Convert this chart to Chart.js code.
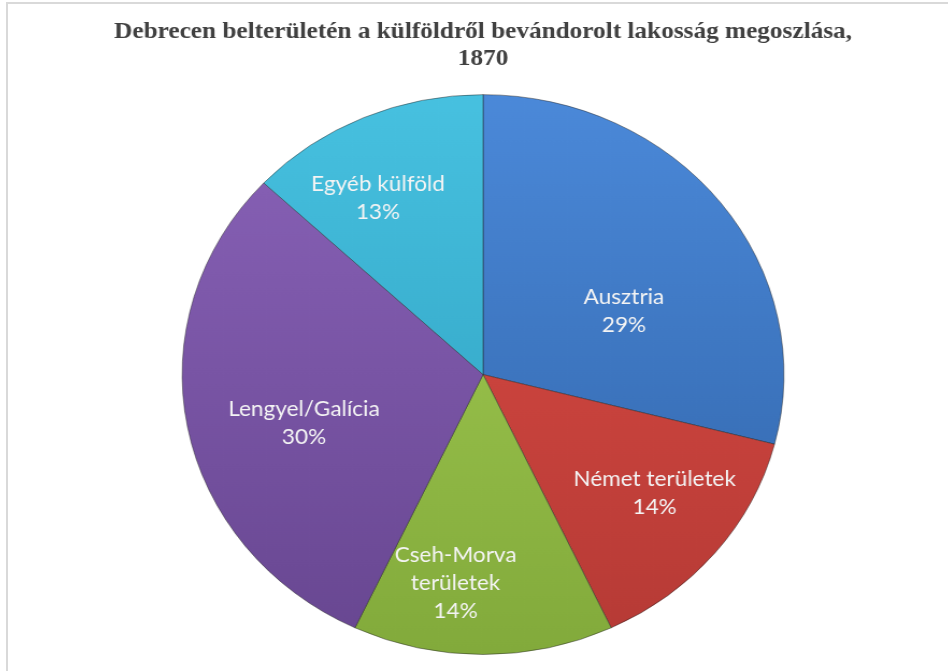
<!DOCTYPE html>
<html>
<head>
<meta charset="utf-8">
<script src="https://cdn.jsdelivr.net/npm/chart.js@4/dist/chart.umd.min.js"></script>
<style>
  html, body { margin: 0; padding: 0; background: #fff; overflow: hidden; }
  #frame {
    position: absolute; left: 6px; top: 2px; width: 1000px; height: 800px;
    border-left: 2px solid #d9d9d9; border-top: 2px solid #d9d9d9;
  }
  #wrap {
    position: absolute; left: 9px; top: 0; width: 882px; height: 671px;
    transform: scaleX(1.075); transform-origin: 0 0;
  }
</style>
</head>
<body>
<div id="frame"></div>
<div id="wrap"><canvas id="pie-chart"></canvas></div>

<script>
// data (percent of immigrants)
var categories = ['Ausztria', 'Német területek', 'Cseh-Morva területek', 'Lengyel/Galícia', 'Egyéb külföld'];
var shares = [29, 14, 14, 30, 13];
var titleLines = ['Debrecen belterületén a külföldről bevándorolt lakosság megoszlása,', '1870'];

// top/bottom shades of each slice (office style)
var topColors = ['#4b89d9', '#de4c45', '#a6cf55', '#8a63b9', '#47c1e0'];
var bottomColors = ['#2f62a6', '#b53a35', '#82aa3b', '#674690', '#2b9bbb'];

function sliceFill(ctx) {
  var chart = ctx.chart, area = chart.chartArea;
  var i = ctx.dataIndex;
  if (!area) return topColors[i];
  var g = chart.ctx.createLinearGradient(0, area.top, 0, area.bottom);
  g.addColorStop(0, topColors[i]);
  g.addColorStop(1, bottomColors[i]);
  return g;
}

// draws "name / percent" inside each slice
var sliceLabels = {
  id: 'sliceLabels',
  afterDatasetsDraw: function (chart, args, opts) {
    var ctx = chart.ctx;
    var meta = chart.getDatasetMeta(0);
    var total = shares.reduce(function (a, b) { return a + b; }, 0);
    ctx.save();
    ctx.font = opts.font;
    ctx.fillStyle = opts.color;
    ctx.textAlign = 'center';
    ctx.textBaseline = 'middle';
    meta.data.forEach(function (arc, i) {
      var p = arc.getProps(['x', 'y', 'startAngle', 'endAngle', 'outerRadius'], true);
      var a = (p.startAngle + p.endAngle) / 2 + opts.shift[i] * Math.PI / 180;
      var r = p.outerRadius * opts.reach[i];
      var cx = p.x + Math.cos(a) * r;
      var cy = p.y + Math.sin(a) * r;
      var lines = opts.wrap[i] ? categories[i].split(' ') : [categories[i]];
      lines.push(Math.round(shares[i] / total * 100) + '%');
      var y0 = cy - (lines.length - 1) * opts.lineHeight / 2;
      lines.forEach(function (t, k) {
        ctx.fillText(t, cx, y0 + k * opts.lineHeight);
      });
    });
    ctx.restore();
  }
};

var ctxPie = document.getElementById('pie-chart');

var pie = new Chart(ctxPie, {
  type: 'pie',
  data: {
    labels: categories,
    datasets: [{
      data: shares,
      backgroundColor: sliceFill,
      borderColor: 'rgba(30,30,30,0.45)',
      borderWidth: 1
    }]
  },
  options: {
    responsive: true,
    maintainAspectRatio: false,
    animation: false,
    layout: { padding: { top: 0, bottom: 16, left: 0, right: 0 } },
    plugins: {
      legend: { display: false },
      tooltip: { enabled: false },
      title: {
        display: true,
        text: titleLines,
        color: '#404040',
        font: { family: '"Liberation Serif", "Times New Roman", serif', size: 23.5, weight: 'bold', lineHeight: 1.12 },
        padding: { top: 19, bottom: 22.5 }
      },
      sliceLabels: {
        font: '21px Lato, "Noto Sans", sans-serif',
        color: '#f4f4f4',
        lineHeight: 28,
        reach: [0.52, 0.71, 0.75, 0.62, 0.72],
        shift: [12, -3, 7, -5.5, -5.6],
        wrap: [false, false, true, false, false]
      }
    }
  },
  plugins: [sliceLabels]
});
</script>
</body>
</html>
